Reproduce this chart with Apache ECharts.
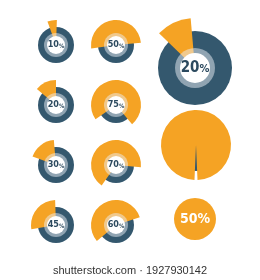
<!DOCTYPE html>
<html>
<head>
<meta charset="utf-8">
<script src="https://cdn.jsdelivr.net/npm/echarts@6/dist/echarts.min.js"></script>
<style>
  html, body { margin: 0; padding: 0; background: #fff; }
  #chart { width: 260px; height: 280px; }
</style>
</head>
<body>
<div id="chart"></div>
<script>
  // percent labels of the small ring icons (col 1 then col 2, top to bottom)
  const smallLabels = ['10%', '20%', '30%', '45%', '50%', '75%', '70%', '60%'];
  // orange wedge as drawn: start angle and end angle (deg, 0 = 3 o'clock, ccw)
  const wedgeFrom = [88, 90, 95, 92, 5, -50, -5, 18];
  const wedgeTo = [110, 140, 160, 190, 188, 215, 235, 220];

  const bigLabel = '20%';
  const bigFrom = 95;
  const bigTo = 136;

  const fullGap = 5;        // slit at the bottom of the orange disc
  const discLabel = '50%';
  const footer = 'shutterstock.com · 1927930142';

  const DARK = '#34586e';
  const ORANGE = '#f5a324';
  const TEXT = '#2c4a5f';

  // icon layout
  const smallCenters = [
    [56, 45], [56, 105], [56, 165], [56, 225],
    [116, 45], [116, 105], [116, 165], [116, 225]
  ];

  const base = {
    type: 'pie', silent: true, animation: false,
    label: { show: false }, labelLine: { show: false },
    emphasis: { disabled: true }, avoidLabelOverlap: false, minAngle: 0
  };

  function ring(center, rDark, rOrange, rRing, rWhite, from, to, label, fs) {
    const sweep = to - from;
    return [
      Object.assign({}, base, {
        center: center, radius: [0, rDark],
        data: [{ value: 1, itemStyle: { color: DARK } }]
      }),
      Object.assign({}, base, {
        center: center, radius: [0, rOrange], startAngle: from, clockwise: false,
        data: [
          { value: sweep, itemStyle: { color: ORANGE } },
          { value: 360 - sweep, itemStyle: { color: 'rgba(0,0,0,0)' } }
        ]
      }),
      Object.assign({}, base, {
        center: center, radius: [0, rRing],
        data: [{ value: 1, itemStyle: { color: 'rgba(235,240,245,0.5)' } }]
      }),
      Object.assign({}, base, {
        center: center, radius: [0, rWhite],
        label: {
          show: true, position: 'center',
          formatter: '{n|' + label.replace('%', '') + '}{p|%}',
          rich: {
            n: { fontFamily: 'DejaVu Sans Condensed', fontWeight: 'bold', fontSize: fs, color: TEXT },
            p: { fontFamily: 'DejaVu Sans Condensed', fontWeight: 'bold', fontSize: Math.round(fs * 0.7), color: TEXT, padding: [2, 0, 0, 0] }
          }
        },
        data: [{ value: 1, itemStyle: { color: '#ffffff' } }]
      })
    ];
  }

  let series = [];
  smallLabels.forEach((lab, i) => {
    series = series.concat(ring(smallCenters[i], 18, 25, 12, 9, wedgeFrom[i], wedgeTo[i], lab, 9));
  });
  series = series.concat(ring([195, 68], 37, 50, 20, 15, bigFrom, bigTo, bigLabel, 15));

  // near-full orange disc with a slit at 6 o'clock
  series.push(Object.assign({}, base, {
    center: [196, 145], radius: [0, 26],
    data: [{ value: 1, itemStyle: { color: DARK } }]
  }));
  series.push(Object.assign({}, base, {
    center: [196, 145], radius: [0, 35], startAngle: 270 + fullGap / 2, clockwise: false,
    data: [
      { value: 360 - fullGap, itemStyle: { color: ORANGE } },
      { value: fullGap, itemStyle: { color: 'rgba(0,0,0,0)' } }
    ]
  }));

  // solid orange disc with label
  series.push(Object.assign({}, base, {
    center: [195, 219], radius: [0, 21],
    label: {
      show: true, position: 'center', formatter: discLabel,
      fontFamily: 'DejaVu Sans Condensed', fontWeight: 'bold', fontSize: 14, color: '#ffffff'
    },
    data: [{ value: 1, itemStyle: { color: ORANGE } }]
  }));

  const chart = echarts.init(document.getElementById('chart'));
  chart.setOption({
    backgroundColor: '#ffffff',
    series: series,
    graphic: [{
      type: 'text', left: 53, top: 265,
      style: { text: footer, fontFamily: 'Liberation Sans', fontSize: 11, fill: '#333333' }
    }]
  });
</script>
</body>
</html>
